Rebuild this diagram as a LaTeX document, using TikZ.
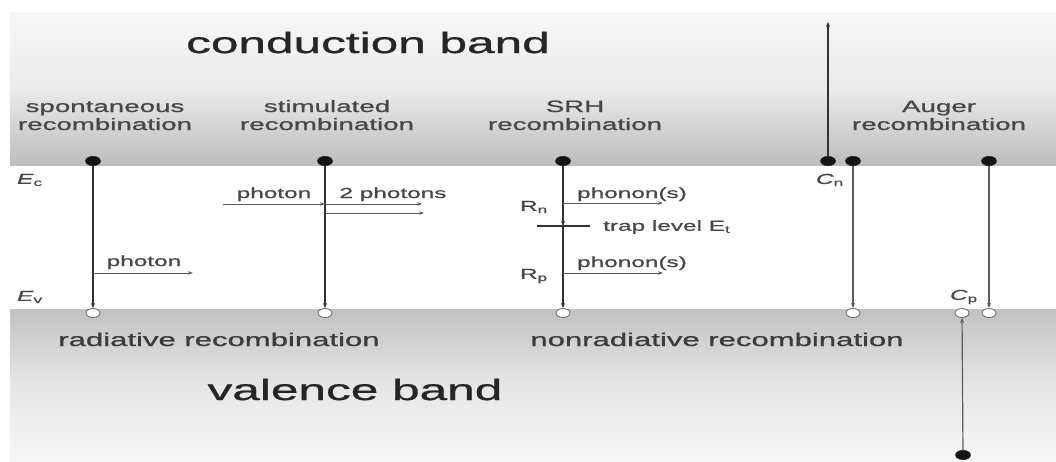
\documentclass[tikz,border=0pt]{standalone}
\usepackage{fontspec}
\usepackage{graphicx}
\setmainfont{Liberation Sans}[FakeBold=0.7]
\usetikzlibrary{arrows.meta,shapes.geometric}
\newcommand{\hs}[1]{\scalebox{1.68}[1]{#1}}
\definecolor{txt}{HTML}{262626}
\definecolor{ln}{HTML}{333333}
\begin{document}
\begin{tikzpicture}[x=1pt,y=-1pt,
  big/.style={inner sep=0pt,anchor=base,text=txt,font=\fontsize{29.5}{32}\selectfont},
  mid/.style={inner sep=0pt,anchor=base,text=txt!90!white,font=\fontsize{18.5}{20}\selectfont},
  ttl/.style={inner sep=0pt,anchor=base,text=txt!85!white,font=\fontsize{16.5}{18}\selectfont},
  sml/.style={inner sep=0pt,anchor=base,text=txt!85!white,font=\fontsize{14.5}{16}\selectfont},
  fdot/.style={ellipse,fill=black!92,draw=black!92,minimum width=15pt,minimum height=9.5pt,inner sep=0pt},
  odot/.style={ellipse,fill=white,draw=black!55,line width=0.9pt,minimum width=14pt,minimum height=9pt,inner sep=0pt},
  varr/.style={draw=ln,line width=1.2pt,-{Stealth[length=5pt,width=4pt]}},
  harr/.style={draw=ln!80!white,line width=0.8pt,-{Stealth[length=5pt,width=3.5pt]}},
  trapline/.style={draw=ln,line width=1.6pt}]
\useasboundingbox (0,0) rectangle (1056,461);
\fill[white] (0,0) rectangle (1056,461);
% bands
\fill[top color=white!97!black,bottom color=black!26,middle color=black!8] (10,12) rectangle (1056,165);
\fill[top color=black!24,bottom color=white!97!black,middle color=black!10] (10,309) rectangle (1056,461);
% band titles
\node[big] (cb) at (368,53) {\hs{conduction band}};
\node[big] (vb) at (355,400) {\hs{valence band}};
% process titles
\node[ttl] (t1) at (105,112) {\hs{\begin{tabular}[t]{@{}c@{}}spontaneous\\recombination\end{tabular}}};
\node[ttl] (t2) at (327,112) {\hs{\begin{tabular}[t]{@{}c@{}}stimulated\\recombination\end{tabular}}};
\node[ttl] (t3) at (575,112) {\hs{\begin{tabular}[t]{@{}c@{}}SRH\\recombination\end{tabular}}};
\node[ttl] (t4) at (939,112) {\hs{\begin{tabular}[t]{@{}c@{}}Auger\\recombination\end{tabular}}};
\node[mid] (rad) at (219,346) {\hs{radiative recombination}};
\node[mid] (nrad) at (717,346) {\hs{nonradiative recombination}};
% band edges
\node[sml,anchor=center] (ec) at (30,180) {\hs{\textit{E}\textsubscript{c}}};
\node[sml,anchor=center] (ev) at (30,297) {\hs{\textit{E}\textsubscript{v}}};
% spontaneous
\node[fdot] (e1) at (93,161) {};
\node[odot] (h1) at (93,313) {};
\draw[varr] (e1) -- (h1);
\coordinate (p1s) at (93,273);
\coordinate (p1e) at (193,273);
\draw[harr] (p1s) -- (p1e);
\node[sml] (ph1) at (144,266) {\hs{photon}};
% stimulated
\node[fdot] (e2) at (325,161) {};
\node[odot] (h2) at (325,313) {};
\draw[varr] (e2) -- (h2);
\coordinate (p2s) at (223,204);
\coordinate (p2m) at (325,204);
\coordinate (p2e) at (422,204);
\coordinate (p3s) at (325,213);
\coordinate (p3e) at (424,213);
\draw[harr] (p2s) -- (p2m);
\draw[harr] (p2m) -- (p2e);
\draw[harr] (p3s) -- (p3e);
\node[sml] (ph2) at (274,198) {\hs{photon}};
\node[sml] (ph3) at (393,198) {\hs{2 photons}};
% SRH
\node[fdot] (e3) at (563,161) {};
\node[odot] (h3) at (563,313) {};
\coordinate (tl) at (537,226);
\coordinate (tr) at (590,226);
\coordinate (tm) at (563,226);
\draw[trapline] (tl) -- (tr);
\draw[varr] (e3) -- (tm);
\draw[varr] (tm) -- (h3);
\node[sml,anchor=west] (trap) at (603,227) {\hs{trap level E\textsubscript{t}}};
\coordinate (q1s) at (563,203);
\coordinate (q1e) at (663,203);
\coordinate (q2s) at (563,273);
\coordinate (q2e) at (663,273);
\draw[harr] (q1s) -- (q1e);
\draw[harr] (q2s) -- (q2e);
\node[sml] (pn1) at (632,198) {\hs{phonon(s)}};
\node[sml] (pn2) at (632,267) {\hs{phonon(s)}};
\node[sml,anchor=center] (rn) at (534,207) {\hs{R\textsubscript{n}}};
\node[sml,anchor=center] (rp) at (534,276) {\hs{R\textsubscript{p}}};
% Auger
\node[fdot] (e4) at (828,161) {};
\node[fdot] (e5) at (853,161) {};
\node[fdot] (e6) at (989,161) {};
\node[odot] (h5) at (853,313) {};
\node[odot] (h6a) at (962,313) {};
\node[odot] (h6) at (989,313) {};
\node[fdot] (e7) at (963,455) {};
\coordinate (up) at (828,22);
\draw[varr] (e4) -- (up);
\draw[varr,draw=ln!80!white] (e5) -- (h5);
\draw[varr,draw=ln!80!white] (e6) -- (h6);
\draw[varr,draw=ln!80!white] (e7) -- (h6a);
\node[sml,anchor=center] (cn) at (830,180) {\hs{\textit{C}\textsubscript{n}}};
\node[sml,anchor=center] (cp) at (964,297) {\hs{\textit{C}\textsubscript{p}}};
\end{tikzpicture}
\end{document}
